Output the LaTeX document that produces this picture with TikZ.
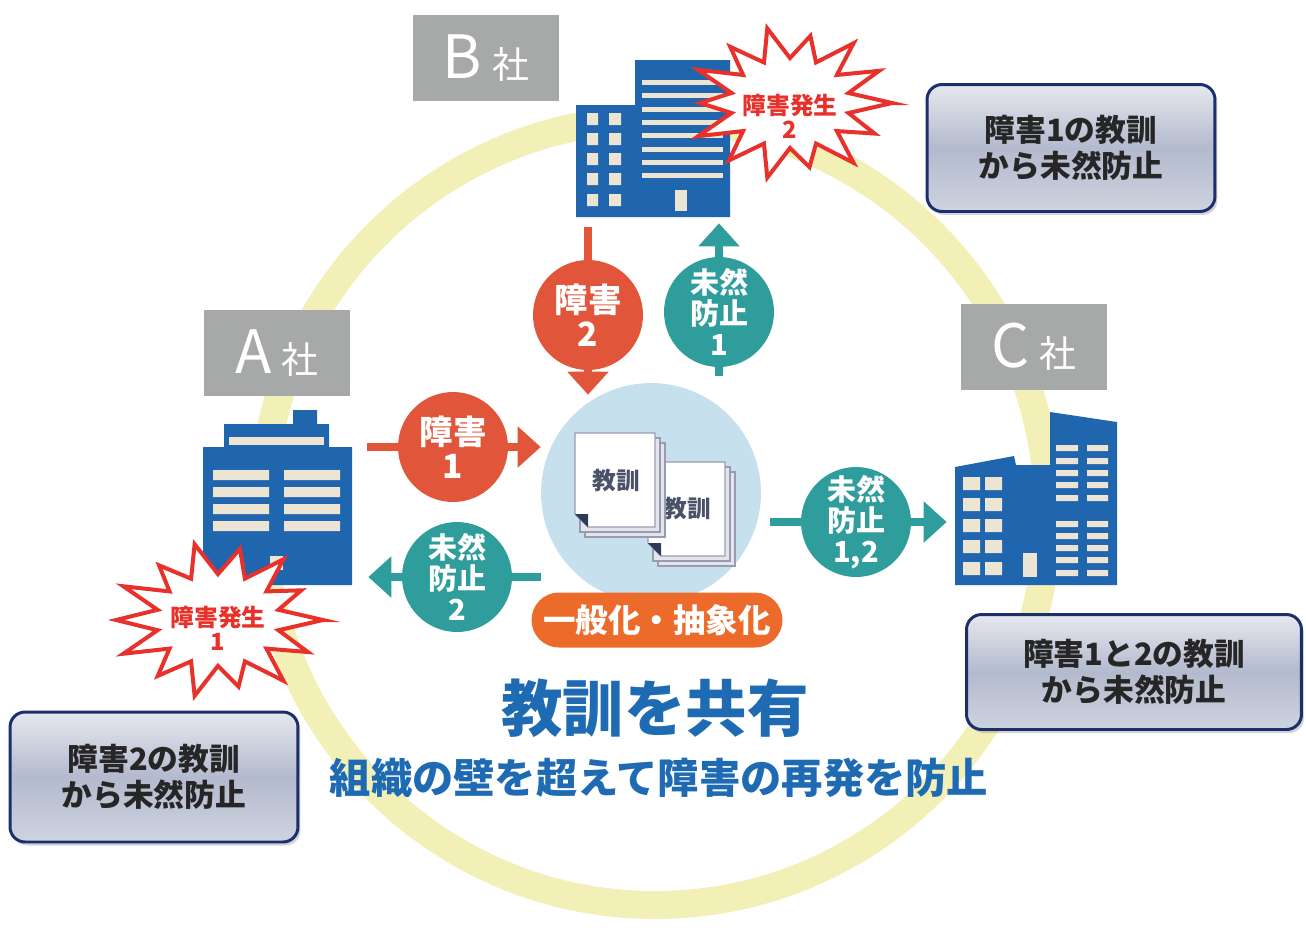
\documentclass[tikz,border=0pt]{standalone}
\usepackage{fontspec}
\setmainfont{Noto Sans CJK JP}
\usetikzlibrary{arrows.meta,shadows}

\definecolor{ringyellow}{HTML}{F2F0B6}
\definecolor{firmgray}{HTML}{A6A9A8}
\definecolor{bldblue}{HTML}{1F66AF}
\definecolor{wincream}{HTML}{EDE5D3}
\definecolor{failred}{HTML}{E1553A}
\definecolor{prevteal}{HTML}{2E9D9C}
\definecolor{hubblue}{HTML}{C6E0EE}
\definecolor{pillorange}{HTML}{EC6B2B}
\definecolor{burstred}{HTML}{E9312B}
\definecolor{titleblue}{HTML}{1F6BB3}
\definecolor{memonavy}{HTML}{1B2F6D}
\definecolor{memotop}{HTML}{E6E8EF}
\definecolor{memomid}{HTML}{B3BACD}
\definecolor{memobot}{HTML}{CED3DF}
\definecolor{sheetline}{HTML}{979CB0}
\definecolor{sheetback}{HTML}{E3E4EC}
\definecolor{foldnavy}{HTML}{2C3B5C}
\definecolor{lessongray}{HTML}{4A5268}

\begin{document}
\begin{tikzpicture}[x=0.02cm,y=-0.02cm,
  firm/.style={fill=firmgray,text=white,minimum width=2.94cm,minimum height=1.72cm,inner sep=0pt,font=\fontsize{34pt}{34pt}\selectfont},
  badge/.style={circle,minimum size=2.2cm,inner sep=0pt,text=white,align=center,font=\bfseries\fontsize{16.5pt}{17.5pt}\selectfont},
  failbadge/.style={badge,fill=failred,font=\bfseries\fontsize{19pt}{19.5pt}\selectfont},
  prevbadge/.style={badge,fill=prevteal},
  flow/.style={line width=0.16cm,-{Triangle[width=0.8cm,length=0.46cm]}},
  burst/.style={draw=burstred,fill=white,line width=0.08cm},
  bursttext/.style={text=burstred,align=center,font=\bfseries\fontsize{13.5pt}{13.5pt}\selectfont},
  sheet/.style={fill=white,draw=sheetline,line width=0.6pt},
  backsheet/.style={fill=sheetback,draw=sheetline,line width=0.6pt},
  lesson/.style={text=lessongray,font=\bfseries\fontsize{13.5pt}{13.5pt}\selectfont},
  pill/.style={fill=pillorange,rounded corners=0.55cm,minimum width=5.02cm,minimum height=1.1cm,text=white,font=\bfseries\fontsize{18.5pt}{18.5pt}\selectfont},
  memo/.style={draw=memonavy,line width=1.7pt,rounded corners=0.3cm,top color=memotop,bottom color=memobot,middle color=memomid,drop shadow={shadow xshift=0.05cm,shadow yshift=-0.07cm,opacity=0.35},align=center,text=black!85,font=\bfseries\fontsize{17.5pt}{20.5pt}\selectfont}]
\useasboundingbox (0,0) rectangle (1306,938);

% the ring linking the three companies
\draw[ringyellow,line width=0.56cm] (655,512) circle[radius=393];

% company labels
\node[firm] (firmB) at (486,58) {B\,{\fontsize{21pt}{21pt}\selectfont 社}};
\node[firm] (firmA) at (277,353) {A\,{\fontsize{21pt}{21pt}\selectfont 社}};
\node[firm] (firmC) at (1034,347) {C\,{\fontsize{21pt}{21pt}\selectfont 社}};

% A building
\node[inner sep=0pt,minimum width=2.98cm,minimum height=3.5cm] (bldA) at (277.5,497.5) {};
\fill[bldblue] (293,410) rectangle (317,426) (224,424) rectangle (329,447) (203,447) rectangle (352,585);
\fill[wincream] (229,437) rectangle (324,445);
\foreach \y in {470,487,504,521}
  \fill[wincream] (213,\y) rectangle (269,\y+10) (284,\y) rectangle (340,\y+10);
\fill[wincream] (270,556) rectangle (283,570);

% B building
\node[inner sep=0pt,minimum width=3.08cm,minimum height=3.14cm] (bldB) at (653,138.5) {};
\fill[bldblue] (576,105) rectangle (637,217) (635,60) rectangle (730,217);
\foreach \y in {113,133,153,173,194}
  \fill[wincream] (587,\y) rectangle (598,\y+12) (609,\y) rectangle (621,\y+12);
\foreach \i in {0,...,7}
  \fill[wincream] (642,80+13.3*\i) rectangle (723,85+13.3*\i);
\fill[wincream] (675,190) rectangle (687,211);

% C building
\node[inner sep=0pt,minimum width=3.24cm,minimum height=3.46cm] (bldC) at (1036,498.5) {};
\fill[bldblue] (955,467) -- (1014,456) -- (1016,465) -- (1050,465) -- (1050,412)
  -- (1117,422) -- (1117,585) -- (955,585) -- cycle;
\foreach \y in {477,498,519,540,562}
  \fill[wincream] (963,\y) rectangle (980,\y+13) (985,\y) rectangle (1002,\y+13);
\foreach \y in {445,458,470,482,495,521,533,545,557,570}
  \fill[wincream] (1056,\y) rectangle (1078,\y+6) (1087,\y) rectangle (1108,\y+6);
\fill[wincream] (1023,553) rectangle (1037,577);

% shared lessons
\node[circle,fill=hubblue,minimum size=4.4cm,inner sep=0pt] (hub) at (651,493) {};
\foreach \d in {10,5}
  \filldraw[backsheet] (648+\d,462+\d) rectangle (725+\d,556+\d);
\filldraw[sheet] (648,462) -- (725,462) -- (725,556) -- (661,556) -- (648,543) -- cycle;
\fill[foldnavy] (648,543) -- (661,543) -- (661,556) -- cycle;
\node[lesson] (lesson2) at (687,509) {教訓};
\foreach \d in {10,5}
  \filldraw[backsheet] (575+\d,433+\d) rectangle (655+\d,527+\d);
\filldraw[sheet] (575,433) -- (655,433) -- (655,527) -- (588,527) -- (575,514) -- cycle;
\fill[foldnavy] (575,514) -- (588,514) -- (588,527) -- cycle;
\node[lesson] (lesson1) at (616,481) {教訓};
\node[pill] (abstract) at (657,620) {一般化・抽象化};

% flows between the companies and the hub
\coordinate (f1) at (453,447);
\coordinate (f2) at (588,315);
\coordinate (p1) at (719,312);
\coordinate (p2) at (457,577);
\coordinate (p12) at (856,522);
\draw[flow,failred,shorten <=0.3cm] (bldA.east |- f1) -- (hub.west |- f1);
\draw[flow,prevteal,shorten >=0.32cm] (hub.west |- p2) -- (bldA.east |- p2);
\draw[flow,failred,shorten <=0.2cm,shorten >=-0.24cm] (bldB.south -| f2) -- (hub.north -| f2);
\draw[flow,prevteal,shorten <=0.14cm,shorten >=0.12cm] (hub.north -| p1) -- (bldB.south -| p1);
\draw[flow,prevteal,shorten <=0.18cm,shorten >=0.16cm] (hub.east |- p12) -- (bldC.west |- p12);

\node[failbadge] (fail1) at (f1) {障害\\1};
\node[failbadge] (fail2) at (f2) {障害\\2};
\node[prevbadge] (prev1) at (p1) {未然\\防止\\1};
\node[prevbadge] (prev2) at (p2) {未然\\防止\\2};
\node[prevbadge] (prev12) at (p12) {未然\\防止\\1,2};

% incident bursts
\draw[burst,shift={(790,103)},yscale=0.75] (0:102)
  \foreach \k/\r in {1/92,2/100,3/86,4/100,5/96,6/100,7/88,8/100,9/94,10/100,11/90,12/100,13/97,14/100}
  { -- ({(\k-0.5)*360/14}:60) -- ({\k*360/14}:{1.02*\r}) } -- cycle;
\node[bursttext] (burstB) at (790,116) {障害発生\\2};
\draw[burst,shift={(218,620)},yscale=0.74] (0:105)
  \foreach \k/\r in {1/95,2/100,3/88,4/100,5/92,6/100,7/97,8/100,9/90,10/100,11/94,12/100,13/88,14/100}
  { -- ({(\k-0.5)*360/14}:62) -- ({\k*360/14}:{1.05*\r}) } -- cycle;
\node[bursttext] (burstA) at (218,628) {障害発生\\1};

% what each company gains
\node[memo,minimum width=5.76cm,minimum height=2.54cm] (memoB) at (1071,148) {障害1の教訓\\から未然防止};
\node[memo,minimum width=6.7cm,minimum height=2.3cm] (memoC) at (1134,672) {障害1と2の教訓\\から未然防止};
\node[memo,minimum width=5.76cm,minimum height=2.6cm] (memoA) at (154,777) {障害2の教訓\\から未然防止};

% headline
\node[text=titleblue,font=\bfseries\fontsize{35pt}{35pt}\selectfont] (share) at (655,708) {教訓を共有};
\node[text=titleblue,font=\bfseries\fontsize{23.5pt}{23.5pt}\selectfont] (motto) at (659,778) {組織の壁を超えて障害の再発を防止};
\end{tikzpicture}
\end{document}
